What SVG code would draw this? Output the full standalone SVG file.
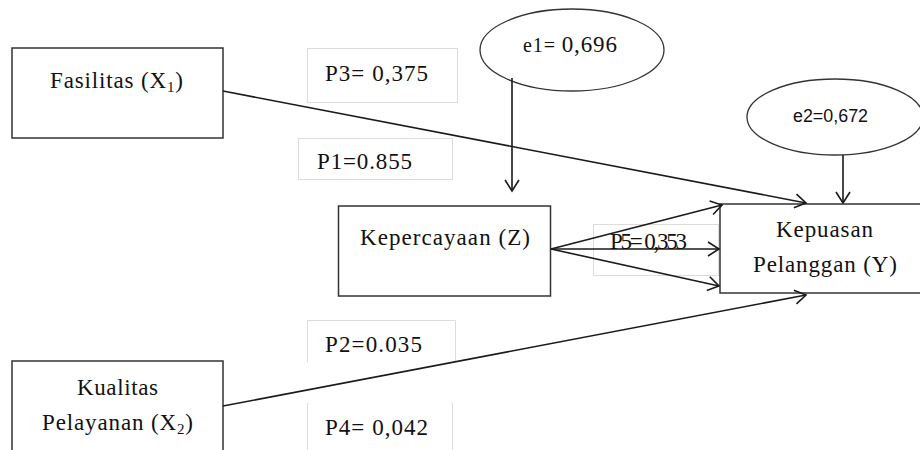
<svg xmlns="http://www.w3.org/2000/svg" width="920" height="450" viewBox="0 0 920 450">
<style>
.node{fill:#fff;stroke:#333;stroke-width:1.5}
.lbl{fill:none;stroke:#dcdcdc;stroke-width:1}
.t{font-family:"Liberation Serif","Times New Roman",serif;font-size:23px;fill:#111}
.s{font-family:"Liberation Sans",Arial,sans-serif;font-size:18px;fill:#111}
.c{stroke:#1a1a1a;stroke-width:1.6;fill:none}
</style>
<defs>
<marker id="ah" markerUnits="userSpaceOnUse" markerWidth="14" markerHeight="18" refX="12" refY="8" orient="auto" viewBox="0 0 14 16">
<path d="M1,1 L12,8 L1,15" fill="none" stroke="#1a1a1a" stroke-width="1.6"/>
</marker>
</defs>
<rect width="920" height="450" fill="#fff"/>

<g id="labels">
<rect class="lbl" x="307.5" y="48.5" width="150" height="54"/>
<text class="t" x="325" y="81" textLength="103" lengthAdjust="spacing">P3= 0,375</text>
<rect class="lbl" x="298.5" y="138.5" width="154" height="41"/>
<text class="t" x="317" y="169" textLength="95" lengthAdjust="spacing">P1=0.855</text>
<rect class="lbl" x="593.5" y="224.5" width="125" height="51"/>
<path class="lbl" d="M307.5,362 V320.5 H455.5 V362"/>
<text class="t" x="325" y="352" textLength="97" lengthAdjust="spacing">P2=0.035</text>
<path class="lbl" d="M307.5,403 V455 M452.5,403 V455"/>
<text class="t" x="325" y="435" textLength="103" lengthAdjust="spacing">P4= 0,042</text>
</g>

<g id="e1">
<ellipse cx="572" cy="50" rx="92" ry="41" fill="#fff" stroke="#333" stroke-width="1.3"/>
<text class="t" x="523" y="52" textLength="94" lengthAdjust="spacing"><tspan font-size="20">e1= </tspan>0,696</text>
</g>
<g id="e2">
<ellipse cx="835" cy="117" rx="88" ry="38" fill="#fff" stroke="#333" stroke-width="1.3"/>
<text class="s" x="793" y="122" textLength="75" lengthAdjust="spacingAndGlyphs">e2=0,672</text>
</g>

<g id="fasilitas">
<rect class="node" x="12" y="48" width="211" height="90"/>
<text class="t" x="50" y="88" textLength="133" lengthAdjust="spacing">Fasilitas (X<tspan font-size="15" dy="4">1</tspan><tspan dy="-4">)</tspan></text>
</g>
<g id="kualitas">
<rect class="node" x="12" y="361" width="211" height="100"/>
<text class="t" x="77" y="395" textLength="81" lengthAdjust="spacing">Kualitas</text>
<text class="t" x="42" y="430" textLength="151" lengthAdjust="spacing">Pelayanan (X<tspan font-size="15" dy="4">2</tspan><tspan dy="-4">)</tspan></text>
</g>
<g id="kepercayaan">
<rect class="node" x="338.5" y="206" width="212" height="90"/>
<text class="t" x="360" y="245" textLength="170" lengthAdjust="spacing">Kepercayaan (Z)</text>
</g>
<g id="kepuasan">
<rect class="node" x="720" y="204" width="215" height="89"/>
<text class="t" x="776" y="237" textLength="97" lengthAdjust="spacing">Kepuasan</text>
<text class="t" x="753" y="272" textLength="144" lengthAdjust="spacing">Pelanggan (Y)</text>
</g>

<g id="connectors">
<line class="c" x1="223" y1="91" x2="806" y2="203" marker-end="url(#ah)"/>
<line class="c" x1="223" y1="406" x2="806" y2="295" marker-end="url(#ah)"/>
<line class="c" x1="512" y1="78" x2="512" y2="191" marker-end="url(#ah)"/>
<line class="c" x1="843" y1="155" x2="843" y2="203" marker-end="url(#ah)"/>
<line class="c" x1="551" y1="249" x2="722" y2="205" marker-end="url(#ah)"/>
<line class="c" x1="551" y1="249" x2="719" y2="249" marker-end="url(#ah)"/>
<line class="c" x1="551" y1="249" x2="719" y2="286" marker-end="url(#ah)"/>
</g>
<text class="t" x="610" y="249" font-size="18" textLength="77" lengthAdjust="spacing">P5= 0,353</text>
</svg>
